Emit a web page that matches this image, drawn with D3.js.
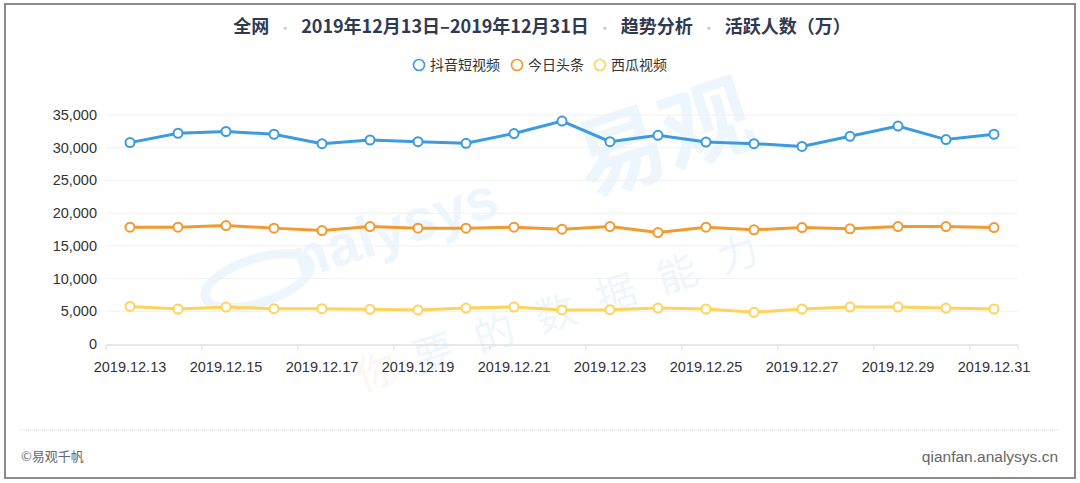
<!DOCTYPE html>
<html><head><meta charset="utf-8">
<script src="https://cdn.jsdelivr.net/npm/d3@7"></script>
<style>
html,body{margin:0;padding:0;background:#fff;}
svg{display:block;font-family:"Noto Sans CJK SC","Noto Sans",sans-serif;}
</style></head>
<body><svg id="c" width="1080" height="483"></svg>
<script>
const dates = ["2019.12.13","2019.12.14","2019.12.15","2019.12.16","2019.12.17","2019.12.18","2019.12.19","2019.12.20","2019.12.21","2019.12.22","2019.12.23","2019.12.24","2019.12.25","2019.12.26","2019.12.27","2019.12.28","2019.12.29","2019.12.30","2019.12.31"];
const douyin = [30780,32210,32480,32060,30620,31180,30930,30670,32170,34070,30930,31900,30870,30620,30200,31750,33300,31240,32060];
const toutiao = [17860,17860,18100,17710,17340,17950,17710,17710,17860,17550,17950,17030,17860,17450,17800,17600,17950,17950,17800];
const xigua = [5750,5350,5650,5400,5400,5300,5200,5500,5650,5200,5250,5500,5350,4850,5350,5650,5650,5500,5350];
const seriesNames = ["抖音短视频","今日头条","西瓜视频"];
const seriesColors = ["#3a9be0","#f29a2e","#fdd35c"];
const yTicks = [0,5000,10000,15000,20000,25000,30000,35000];
const titleParts = ["全网","2019年12月13日–2019年12月31日","趋势分析","活跃人数（万）"];

const svg = d3.select("#c");
const latin = "Liberation Sans, Arial, sans-serif";
// border
svg.append("rect").attr("x",5).attr("y",4).attr("width",1070).attr("height",474)
  .attr("fill","#fff").attr("stroke","#8a8a8a").attr("stroke-width",2);

// title
const title = svg.append("text").attr("x",542).attr("y",33).attr("text-anchor","middle")
  .attr("font-size",18).attr("font-weight","bold").attr("fill","#2f3a52");
titleParts.forEach((t,i)=>{
  if(i>0){
    title.append("tspan").attr("dx",9).attr("fill","#cfd3db").attr("font-size",14).text("•");
    title.append("tspan").attr("dx",9).text(t);
  } else title.append("tspan").text(t);
});

// legend
const legX = [419, 517, 600];
seriesNames.forEach((n,i)=>{
  const g = svg.append("g").attr("transform",`translate(${legX[i]},65)`);
  g.append("circle").attr("r",5.5).attr("fill","#fff").attr("stroke",seriesColors[i]).attr("stroke-width",1.6);
  g.append("text").attr("x",11).attr("y",5).attr("font-size",14).attr("fill","#333").text(n);
});

const x = d3.scaleBand().domain(dates).range([106,1018]);
const y = d3.scaleLinear().domain([0,35000]).range([344,115]);

// watermark
const wm = svg.append("g").attr("opacity",0.09).attr("transform","rotate(-18 420 230)");
wm.append("ellipse").attr("cx",250).attr("cy",228).attr("rx",55).attr("ry",22).attr("fill","none").attr("stroke","#3aa0e0").attr("stroke-width",9);
wm.append("text").attr("x",290).attr("y",240).attr("font-size",58).attr("font-weight","bold").attr("fill","#3aa0e0").attr("font-family",latin).text("nalysys");
wm.append("text").attr("x",590).attr("y",250).attr("font-size",90).attr("font-weight","bold").attr("fill","#3aa0e0").text("易观");
const wm2 = svg.append("g").attr("opacity",0.09).attr("transform","rotate(-18 540 260)");
wm2.append("text").attr("x",330).attr("y",330).attr("font-size",40).attr("fill","#f2a060").text("你");
wm2.append("text").attr("x",390).attr("y",330).attr("font-size",40).attr("fill","#3aa0e0").attr("letter-spacing",24).text("要的数据能力");

// grid
svg.append("g").selectAll("line").data(yTicks.slice(1)).join("line")
  .attr("x1",106).attr("x2",1018).attr("y1",d=>y(d)).attr("y2",d=>y(d))
  .attr("stroke","#f0f0f0").attr("stroke-width",1);

// y axis labels
svg.append("g").selectAll("text").data(yTicks).join("text")
  .attr("x",97).attr("y",d=>y(d)+5).attr("text-anchor","end")
  .attr("font-size",14.5).attr("fill","#333").attr("font-family",latin)
  .text(d=>d3.format(",")(d));

// x axis
const xg = svg.append("g").attr("transform","translate(0,345)");
xg.append("line").attr("x1",106).attr("x2",1018).attr("stroke","#e0e0e0").attr("stroke-width",1.5);
const shown = dates.filter((d,i)=>i%2===0);
const tickPos = shown.map(d=>x(d)).concat([1018]);
xg.selectAll("line.tk").data(tickPos).join("line").attr("class","tk")
  .attr("x1",d=>d).attr("x2",d=>d).attr("y1",0).attr("y2",5).attr("stroke","#e0e0e0").attr("stroke-width",1.2);
xg.selectAll("text.lb").data(shown).join("text").attr("class","lb")
  .attr("x",d=>x(d)+x.bandwidth()/2).attr("y",27).attr("text-anchor","middle")
  .attr("font-size",14.5).attr("fill","#333").attr("font-family",latin)
  .text(d=>d);

// lines
const allSeries = [douyin,toutiao,xigua];
const line = d3.line().x((d,i)=>x(dates[i])+x.bandwidth()/2).y(d=>y(d));
allSeries.forEach((s,k)=>{
  svg.append("path").datum(s).attr("d",line).attr("fill","none")
    .attr("stroke",seriesColors[k]).attr("stroke-width",3);
  svg.append("g").selectAll("circle").data(s).join("circle")
    .attr("cx",(d,i)=>x(dates[i])+x.bandwidth()/2).attr("cy",d=>y(d)).attr("r",4.5)
    .attr("fill","#fff").attr("stroke",seriesColors[k]).attr("stroke-width",2);
});

// footer
svg.append("line").attr("x1",20).attr("x2",1060).attr("y1",430).attr("y2",430)
  .attr("stroke","#d8d8d8").attr("stroke-dasharray","1,1");
svg.append("text").attr("x",21).attr("y",461).attr("font-size",13).attr("fill","#666").text("©易观千帆");
svg.append("text").attr("x",1058).attr("y",462).attr("text-anchor","end").attr("font-size",15.5).attr("fill","#666")
  .attr("font-family",latin).text("qianfan.analysys.cn");
</script></body></html>
